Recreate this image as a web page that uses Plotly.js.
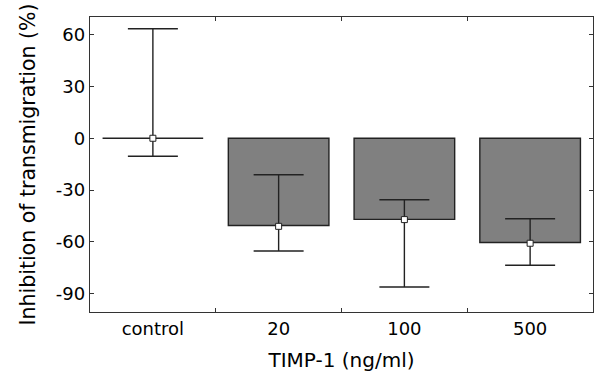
<!DOCTYPE html>
<html><head><meta charset="utf-8">
<script src="https://cdn.plot.ly/plotly-3.0.1.min.js"></script>
<style>html,body{margin:0;padding:0;background:#fff}</style>
</head><body>
<div id="chart" style="width:594px;height:379px"></div>
<script>
var categories = ["control", "20", "100", "500"];
var barValues = [0, -50.5, -47.0, -60.4];
var meanValues = [0, -51.0, -47.1, -60.8];
var errUpper = [63.4, -21.1, -35.6, -46.6];
var errLower = [-10.4, -65.3, -86.1, -73.5];
var yTicks = [-90, -60, -30, 0, 30, 60];

var plusArr = meanValues.map(function(m, i){ return errUpper[i] - m; });
var minusArr = meanValues.map(function(m, i){ return m - errLower[i]; });

var bars = {
  type: "bar", x: categories, y: barValues, width: 0.8,
  marker: {color: "#808080", line: {color: "#222", width: 1.4}},
  hoverinfo: "skip", showlegend: false
};
var pts = {
  type: "scatter", mode: "markers", x: categories, y: meanValues,
  marker: {symbol: "square", size: 6, color: "#fff", line: {color: "#222", width: 1}},
  error_y: {type: "data", symmetric: false, array: plusArr, arrayminus: minusArr,
            color: "#222", thickness: 1.4, width: 25},
  showlegend: false
};
var layout = {
  width: 594, height: 379,
  margin: {l: 90, r: 1, t: 17, b: 67},
  paper_bgcolor: "#fff", plot_bgcolor: "#fff",
  font: {family: "DejaVu Sans, sans-serif", color: "#000"},
  xaxis: {
    type: "category", tickson: "boundaries", ticks: "inside", ticklen: 4,
    tickcolor: "#333", showline: true, linecolor: "#333", linewidth: 1.3, mirror: "ticks",
    showgrid: false, zeroline: false, tickfont: {size: 18},
    title: {text: "TIMP-1 (ng/ml)", font: {size: 20}, standoff: 15}
  },
  yaxis: {
    range: [-100.6, 70.2], tickvals: yTicks, ticktext: yTicks.map(String),
    ticks: "inside", ticklen: 4, tickcolor: "#333",
    showline: true, linecolor: "#333", linewidth: 1.3, mirror: "ticks",
    showgrid: false, zeroline: false, tickfont: {size: 18},
    title: {text: "Inhibition of transmigration (%)", font: {size: 20.5}, standoff: 14}
  },
  bargap: 0.2
};
Plotly.newPlot("chart", [bars, pts], layout, {displayModeBar: false, staticPlot: true});
</script>
</body></html>
